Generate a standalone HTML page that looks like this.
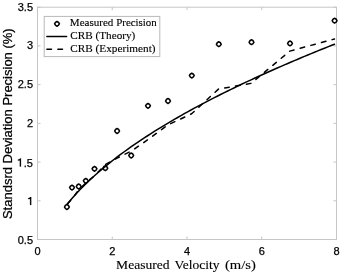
<!DOCTYPE html>
<html><head><meta charset="utf-8"><style>
html,body{margin:0;padding:0;background:#fff;}
svg{display:block;will-change:transform;}
</style></head><body>
<svg width="342" height="275" viewBox="0 0 342 275">
<rect width="342" height="275" fill="#fff"/>
<g stroke="#c6c6c6" stroke-width="1" fill="none">
<rect x="37.5" y="7.2" width="299.0" height="232.3"/>
<line x1="37.50" y1="239.5" x2="37.50" y2="236.5"/>
<line x1="37.50" y1="7.2" x2="37.50" y2="10.2"/>
<line x1="112.25" y1="239.5" x2="112.25" y2="236.5"/>
<line x1="112.25" y1="7.2" x2="112.25" y2="10.2"/>
<line x1="187.00" y1="239.5" x2="187.00" y2="236.5"/>
<line x1="187.00" y1="7.2" x2="187.00" y2="10.2"/>
<line x1="261.75" y1="239.5" x2="261.75" y2="236.5"/>
<line x1="261.75" y1="7.2" x2="261.75" y2="10.2"/>
<line x1="336.50" y1="239.5" x2="336.50" y2="236.5"/>
<line x1="336.50" y1="7.2" x2="336.50" y2="10.2"/>
<line x1="37.5" y1="239.50" x2="40.5" y2="239.50"/>
<line x1="336.5" y1="239.50" x2="333.5" y2="239.50"/>
<line x1="37.5" y1="200.78" x2="40.5" y2="200.78"/>
<line x1="336.5" y1="200.78" x2="333.5" y2="200.78"/>
<line x1="37.5" y1="162.07" x2="40.5" y2="162.07"/>
<line x1="336.5" y1="162.07" x2="333.5" y2="162.07"/>
<line x1="37.5" y1="123.35" x2="40.5" y2="123.35"/>
<line x1="336.5" y1="123.35" x2="333.5" y2="123.35"/>
<line x1="37.5" y1="84.63" x2="40.5" y2="84.63"/>
<line x1="336.5" y1="84.63" x2="333.5" y2="84.63"/>
<line x1="37.5" y1="45.92" x2="40.5" y2="45.92"/>
<line x1="336.5" y1="45.92" x2="333.5" y2="45.92"/>
<line x1="37.5" y1="7.20" x2="40.5" y2="7.20"/>
<line x1="336.5" y1="7.20" x2="333.5" y2="7.20"/>
</g>
<g font-family="Liberation Sans, sans-serif" font-size="11" fill="#000" stroke="#000" stroke-width="0.25">
<text x="33.0" y="244.0" text-anchor="end">0.5</text><text x="33.0" y="127.3" text-anchor="end">2</text><text x="33.0" y="88.2" text-anchor="end">2.5</text><text x="33.0" y="49.4" text-anchor="end">3</text><text x="33.0" y="10.7" text-anchor="end">3.5</text><text x="33.0" y="166.5" text-anchor="end">.5</text><path d="M31.20,204.95 L30.10,204.95 L30.10,199.00 L28.15,199.00 L28.15,198.30 C29.25,198.25 29.90,197.85 30.20,197.10 L31.20,197.10 Z"/><path d="M20.95,166.55 L19.85,166.55 L19.85,160.40 L17.90,160.40 L17.90,159.70 C19.00,159.65 19.65,159.25 19.95,158.50 L20.95,158.50 Z"/>
<text x="37.50" y="254.9" text-anchor="middle">0</text><text x="112.25" y="254.9" text-anchor="middle">2</text><text x="187.00" y="254.9" text-anchor="middle">4</text><text x="261.75" y="254.9" text-anchor="middle">6</text><text x="336.50" y="254.9" text-anchor="middle">8</text>
</g>
<text transform="translate(12.0,123.7) rotate(-90)" text-anchor="middle" font-family="Liberation Sans, sans-serif" font-size="13" fill="#000" stroke="#000" stroke-width="0.25">Standsrd Deviation Precision (%)</text>
<g font-family="Liberation Serif, serif" font-size="13.3" fill="#000" stroke="#000" stroke-width="0.12">
<text x="116.1" y="268.8" textLength="53.5" lengthAdjust="spacingAndGlyphs">Measured</text>
<text x="174.6" y="268.8" textLength="45.0" lengthAdjust="spacingAndGlyphs">Velocity</text>
<text x="224.9" y="268.8" textLength="31.0" lengthAdjust="spacingAndGlyphs">(m/s)</text>
</g>
<g fill="none" stroke="#000" stroke-width="1.55">
<path transform="translate(66.9,207.0)" d="M0,-2.4 Q1.75,-1.75 2.4,0 Q1.75,1.75 0,2.4 Q-1.75,1.75 -2.4,0 Q-1.75,-1.75 0,-2.4Z"/>
<path transform="translate(72.0,187.6)" d="M0,-2.4 Q1.75,-1.75 2.4,0 Q1.75,1.75 0,2.4 Q-1.75,1.75 -2.4,0 Q-1.75,-1.75 0,-2.4Z"/>
<path transform="translate(78.7,186.5)" d="M0,-2.4 Q1.75,-1.75 2.4,0 Q1.75,1.75 0,2.4 Q-1.75,1.75 -2.4,0 Q-1.75,-1.75 0,-2.4Z"/>
<path transform="translate(85.8,180.8)" d="M0,-2.4 Q1.75,-1.75 2.4,0 Q1.75,1.75 0,2.4 Q-1.75,1.75 -2.4,0 Q-1.75,-1.75 0,-2.4Z"/>
<path transform="translate(94.5,168.8)" d="M0,-2.4 Q1.75,-1.75 2.4,0 Q1.75,1.75 0,2.4 Q-1.75,1.75 -2.4,0 Q-1.75,-1.75 0,-2.4Z"/>
<path transform="translate(105.3,168.2)" d="M0,-2.4 Q1.75,-1.75 2.4,0 Q1.75,1.75 0,2.4 Q-1.75,1.75 -2.4,0 Q-1.75,-1.75 0,-2.4Z"/>
<path transform="translate(117.1,131.0)" d="M0,-2.4 Q1.75,-1.75 2.4,0 Q1.75,1.75 0,2.4 Q-1.75,1.75 -2.4,0 Q-1.75,-1.75 0,-2.4Z"/>
<path transform="translate(131.2,155.5)" d="M0,-2.4 Q1.75,-1.75 2.4,0 Q1.75,1.75 0,2.4 Q-1.75,1.75 -2.4,0 Q-1.75,-1.75 0,-2.4Z"/>
<path transform="translate(148.0,105.8)" d="M0,-2.4 Q1.75,-1.75 2.4,0 Q1.75,1.75 0,2.4 Q-1.75,1.75 -2.4,0 Q-1.75,-1.75 0,-2.4Z"/>
<path transform="translate(168.0,101.0)" d="M0,-2.4 Q1.75,-1.75 2.4,0 Q1.75,1.75 0,2.4 Q-1.75,1.75 -2.4,0 Q-1.75,-1.75 0,-2.4Z"/>
<path transform="translate(191.8,75.6)" d="M0,-2.4 Q1.75,-1.75 2.4,0 Q1.75,1.75 0,2.4 Q-1.75,1.75 -2.4,0 Q-1.75,-1.75 0,-2.4Z"/>
<path transform="translate(218.8,44.2)" d="M0,-2.4 Q1.75,-1.75 2.4,0 Q1.75,1.75 0,2.4 Q-1.75,1.75 -2.4,0 Q-1.75,-1.75 0,-2.4Z"/>
<path transform="translate(251.5,42.2)" d="M0,-2.4 Q1.75,-1.75 2.4,0 Q1.75,1.75 0,2.4 Q-1.75,1.75 -2.4,0 Q-1.75,-1.75 0,-2.4Z"/>
<path transform="translate(290.0,43.4)" d="M0,-2.4 Q1.75,-1.75 2.4,0 Q1.75,1.75 0,2.4 Q-1.75,1.75 -2.4,0 Q-1.75,-1.75 0,-2.4Z"/>
<path transform="translate(334.6,20.7)" d="M0,-2.4 Q1.75,-1.75 2.4,0 Q1.75,1.75 0,2.4 Q-1.75,1.75 -2.4,0 Q-1.75,-1.75 0,-2.4Z"/>
</g>
<polyline points="67.50,203.82 70.84,199.80 74.17,195.97 77.51,192.31 80.85,188.80 84.19,185.42 87.53,182.17 90.86,179.02 94.20,175.96 97.54,173.00 100.88,170.11 104.21,167.31 107.55,164.57 110.89,161.89 114.22,159.28 117.56,156.72 120.90,154.21 124.24,151.76 127.58,149.35 130.91,146.98 134.25,144.66 137.59,142.38 140.93,140.13 144.26,137.92 147.60,135.75 150.94,133.60 154.28,131.49 157.61,129.41 160.95,127.36 164.29,125.33 167.62,123.34 170.96,121.36 174.30,119.41 177.64,117.49 180.97,115.59 184.31,113.71 187.65,111.85 190.99,110.01 194.32,108.19 197.66,106.39 201.00,104.61 204.34,102.85 207.68,101.11 211.01,99.38 214.35,97.67 217.69,95.97 221.03,94.29 224.36,92.63 227.70,90.98 231.04,89.34 234.38,87.72 237.71,86.11 241.05,84.52 244.39,82.94 247.72,81.37 251.06,79.81 254.40,78.27 257.74,76.74 261.07,75.22 264.41,73.71 267.75,72.21 271.09,70.72 274.43,69.25 277.76,67.78 281.10,66.32 284.44,64.88 287.77,63.44 291.11,62.01 294.45,60.60 297.79,59.19 301.12,57.79 304.46,56.40 307.80,55.02 311.14,53.64 314.48,52.28 317.81,50.92 321.15,49.57 324.49,48.23 327.82,46.90 331.16,45.57 334.50,44.25" fill="none" stroke="#000" stroke-width="1.5" stroke-linejoin="round" stroke-linecap="round"/>
<polyline points="67.50,203.82 72.00,199.04 78.70,189.85 85.80,183.04 94.50,175.69 105.30,164.61 117.10,158.07 131.20,151.20 147.95,139.60 167.80,125.00 191.60,113.80 218.60,89.00 251.30,83.30 289.80,51.10 334.50,39.00" fill="none" stroke="#000" stroke-width="1.5" stroke-linejoin="round" stroke-linecap="round" stroke-dasharray="4.6 6.4"/>
<rect x="44.2" y="16.4" width="115.6" height="40.2" fill="#fff" stroke="#b8b8b8" stroke-width="1"/>
<path transform="translate(57.0,23.8)" d="M0,-2.4 Q1.75,-1.75 2.4,0 Q1.75,1.75 0,2.4 Q-1.75,1.75 -2.4,0 Q-1.75,-1.75 0,-2.4Z" fill="none" stroke="#000" stroke-width="1.55"/>
<line x1="46.9" y1="36.6" x2="66.6" y2="36.6" stroke="#000" stroke-width="1.5" stroke-linecap="round"/>
<line x1="46.9" y1="49.3" x2="66.6" y2="49.3" stroke="#000" stroke-width="1.5" stroke-linecap="round" stroke-dasharray="4.6 6.4"/>
<g font-family="Liberation Serif, serif" font-size="10.3" fill="#000" stroke="#000" stroke-width="0.12">
<text x="69.8" y="26.3" textLength="43.6" lengthAdjust="spacingAndGlyphs">Measured</text>
<text x="116.2" y="26.3" textLength="40.6" lengthAdjust="spacingAndGlyphs">Precision</text>
<text x="70.3" y="39.1" textLength="65.0" lengthAdjust="spacingAndGlyphs">CRB (Theory)</text>
<text x="70.3" y="51.5" textLength="85.2" lengthAdjust="spacingAndGlyphs">CRB (Experiment)</text>
</g>
</svg>
</body></html>
